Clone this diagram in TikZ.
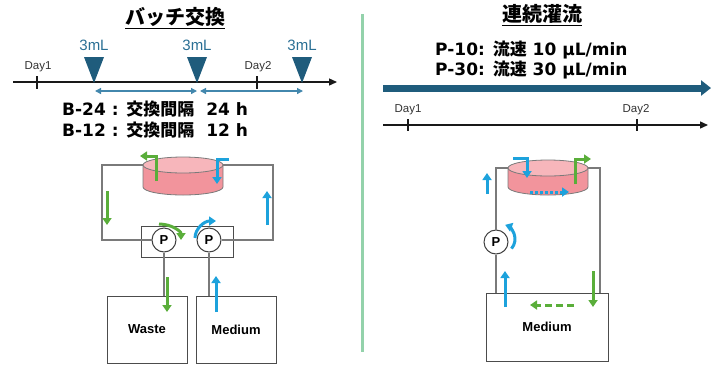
\documentclass[tikz,border=0pt]{standalone}
\usepackage{fontspec}
\setmainfont{DejaVu Sans}
\newfontfamily\jpfont{Noto Sans CJK JP}
\newfontfamily\arialfont{Liberation Sans}
\usetikzlibrary{arrows.meta}

\definecolor{tealdark}{HTML}{1F5C7C}
\definecolor{tealtxt}{HTML}{2A6F94}
\definecolor{spanblue}{HTML}{4287AD}
\definecolor{flowgreen}{HTML}{5AAE3A}
\definecolor{flowblue}{HTML}{1DA2DC}
\definecolor{divgreen}{HTML}{93D2AB}
\definecolor{dishpink}{HTML}{F2949C}
\definecolor{dishtop}{HTML}{F7B6BB}
\definecolor{pipegray}{HTML}{7A7A7A}

\begin{document}
\begin{tikzpicture}[x=1pt, y=-1pt,
    title/.style={font=\jpfont\bfseries\fontsize{20}{22}\selectfont, inner sep=0pt},
    info/.style={font=\bfseries\fontsize{17}{19}\selectfont, anchor=base west, inner sep=0pt},
    vol/.style={font=\arialfont\fontsize{15}{17}\selectfont, text=tealtxt, inner sep=0pt},
    day/.style={font=\arialfont\fontsize{11.5}{13}\selectfont, text=black!80, inner sep=0pt},
    axis/.style={-{Triangle[length=8pt,width=7pt]}, line width=1.4pt, black!90},
    tick/.style={line width=1.2pt, black!90},
    span/.style={{Triangle[length=6pt,width=6pt]}-{Triangle[length=6pt,width=6pt]}, line width=1.3pt, spanblue},
    pipe/.style={line width=1.1pt, pipegray},
    pump/.style={circle, draw=black!75, fill=white, line width=1pt, minimum size=24pt, inner sep=0pt,
        font=\arialfont\bfseries\fontsize{13}{15}\selectfont},
    tank/.style={draw=black!70, line width=1pt, minimum width=80pt, minimum height=67pt,
        font=\arialfont\bfseries\fontsize{13}{15}\selectfont},
    gflow/.style={-{Triangle[length=7pt,width=9pt]}, line width=3pt, flowgreen},
    bflow/.style={-{Triangle[length=7pt,width=9pt]}, line width=3pt, flowblue}]
    \useasboundingbox (0,0) rectangle (711,365);

    % left panel: batch exchange timeline
    \node[title] (batch) at (175,18) {\underline{バッチ交換}};
    \draw[axis] (13,82) -- (337,82);
    \draw[tick] (37,76) -- (37,89);
    \draw[tick] (257,76) -- (257,89);
    \node[day] (bday1) at (38,67) {Day1};
    \node[day] (bday2) at (258,67) {Day2};
    \fill[tealdark] (84,57) -- (104,57) -- (94,83) -- cycle;
    \fill[tealdark] (187,57) -- (207,57) -- (197,83) -- cycle;
    \fill[tealdark] (292,57) -- (312,57) -- (302,83) -- cycle;
    \node[vol] (ml1) at (94,45) {3mL};
    \node[vol] (ml2) at (197,45) {3mL};
    \node[vol] (ml3) at (302,45) {3mL};
    \draw[span] (95,91) -- (197,91);
    \draw[span] (200,91) -- (303,91);
    \node[info] (b24) at (62,115) {B-24 : {\jpfont 交換間隔}\ \ 24 h};
    \node[info] (b12) at (62,136) {B-12 : {\jpfont 交換間隔}\ \ 12 h};

    % left panel: dish, pumps and bottles
    \node[draw=black!70, line width=1pt, minimum width=92pt, minimum height=31pt] (pbox) at (187,241.5) {};
    \node[tank] (waste) at (147,329.5) {Waste};
    \node[tank] (medium) at (236,329.5) {Medium};
    \coordinate (dl1) at (143,165);
    \coordinate (dr1) at (223,165);
    \coordinate (cl1) at (102,165);
    \coordinate (cr1) at (273,165);
    \node[pump] (p1) at (164,240) {P};
    \node[pump] (p2) at (209,240) {P};
    \draw[pipe] (dl1) -- (cl1) |- (p1);
    \draw[pipe] (dr1) -- (cr1) |- (p2);
    \draw[pipe] (p1) -- (p1 |- waste.north);
    \draw[pipe] (p2) -- (p2 |- medium.north);
    \begin{scope}[shift={(183,165)}]
        \filldraw[fill=dishpink, draw=pipegray, line width=0.8pt] (-40,0) -- (-40,22)
            arc[start angle=180, end angle=0, x radius=40, y radius=8] -- (40,0) -- cycle;
        \filldraw[fill=dishtop, draw=pipegray, line width=0.8pt] (0,0) ellipse[x radius=40, y radius=8];
    \end{scope}
    \draw[gflow] (156,181) |- (140,156);
    \draw[bflow] (229,159) -| (217,184);
    \draw[gflow] (107,191) -- (107,225);
    \draw[bflow] (267,225) -- (267,191);
    \draw[gflow] (159,224) arc[start angle=-90, end angle=0, x radius=22, y radius=16];
    \draw[bflow] (195,238) arc[start angle=180, end angle=270, x radius=21, y radius=17];
    \draw[gflow] (167,277) -- (167,312);
    \draw[bflow] (216,312) -- (216,276);

    % divider
    \draw[divgreen, line width=3pt] (362,14) -- (362,352);

    % right panel: continuous perfusion timeline
    \node[title] (perf) at (542,15) {\underline{連続灌流}};
    \node[info] (p10) at (435,55) {P-10: {\jpfont 流速} 10 µL/min};
    \node[info] (p30) at (435,75) {P-30: {\jpfont 流速} 30 µL/min};
    \draw[tealdark, line width=7pt, -{Triangle[length=10pt,width=15pt]}] (383,88) -- (711,88);
    \draw[axis] (383,125) -- (708,125);
    \draw[tick] (408,119) -- (408,131);
    \draw[tick] (637,119) -- (637,131);
    \node[day] (pday1) at (408,110) {Day1};
    \node[day] (pday2) at (636,110) {Day2};

    % right panel: dish, pump and medium bottle
    \node[tank, minimum width=122pt, minimum height=68pt] (medium2) at (547,327) {Medium};
    \coordinate (dl2) at (508,168);
    \coordinate (dr2) at (588,168);
    \coordinate (cl2) at (496,168);
    \coordinate (cr2) at (600,168);
    \node[pump] (p3) at (496,242) {P};
    \draw[pipe] (dl2) -- (cl2) -- (p3);
    \draw[pipe] (p3) -- (p3 |- medium2.north);
    \draw[pipe] (dr2) -- (cr2) -- (cr2 |- medium2.north);
    \begin{scope}[shift={(548,168)}]
        \filldraw[fill=dishpink, draw=pipegray, line width=0.8pt] (-40,0) -- (-40,19)
            arc[start angle=180, end angle=0, x radius=40, y radius=8] -- (40,0) -- cycle;
        \filldraw[fill=dishtop, draw=pipegray, line width=0.8pt] (0,0) ellipse[x radius=40, y radius=8];
    \end{scope}
    \draw[bflow] (487,194) -- (487,173);
    \draw[bflow] (513,158) -| (527,178);
    \draw[gflow] (575,184) |- (591,159);
    \draw[bflow, dash pattern=on 2.5pt off 2.5pt] (530,192) -- (569,192);
    \draw[bflow] (511.5,248.6) arc[start angle=40, end angle=-70, radius=15];
    \draw[bflow] (505,307) -- (505,271);
    \draw[gflow] (593,271) -- (593,307);
    \draw[gflow, dash pattern=on 7pt off 4pt] (574,305) -- (530,305);
\end{tikzpicture}
\end{document}
